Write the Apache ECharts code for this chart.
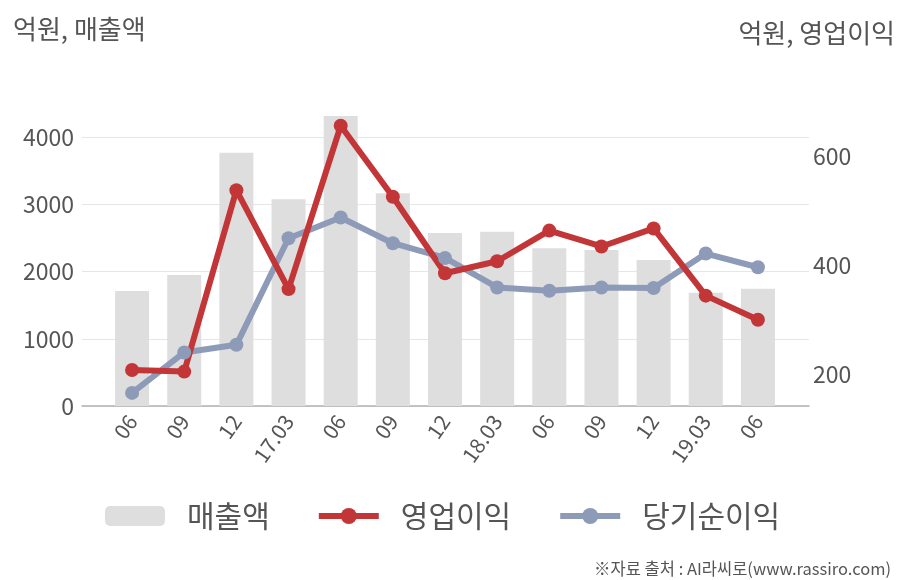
<!DOCTYPE html>
<html><head><meta charset="utf-8">
<script src="https://cdn.jsdelivr.net/npm/echarts@6/dist/echarts.min.js"></script>
<style>html,body{margin:0;padding:0;background:#fff}#c{width:908px;height:580px}</style>
</head><body><div id="c"></div>
<script>
const categories = ['06','09','12','17.03','06','09','12','18.03','06','09','12','19.03','06'];
const sales = [1710, 1948, 3767, 3078, 4317, 3167, 2575, 2592, 2349, 2320, 2171, 1685, 1744];
const operatingProfit = [208, 205, 537, 356, 655, 525, 385, 407, 463, 434, 467, 344, 300];
const netProfit = [166, 240, 254, 449, 487, 440, 413, 359, 353, 359, 358, 421, 396];
const leftTicks = [0, 1000, 2000, 3000, 4000];
const rightTicks = [200, 400, 600];

const FONT = "'Noto Sans CJK KR','Noto Sans',sans-serif";
const TXT = '#555';
const chart = echarts.init(document.getElementById('c'));
const gridColors = ['#e6e6e6','#e6e6e6','#e6e6e6','#e6e6e6','#e6e6e6','rgba(0,0,0,0)'];
chart.setOption({
  animation: false,
  textStyle: {fontFamily: FONT},
  title: [
    {text: '억원, 매출액', left: 8, top: 11, textStyle: {fontFamily: FONT, fontSize: 26, fontWeight: 'normal', color: TXT}},
    {text: '억원, 영업이익', right: 8, top: 15, textStyle: {fontFamily: FONT, fontSize: 26, fontWeight: 'normal', color: TXT}},
    {text: '※자료 출처 : AI라씨로(www.rassiro.com)', right: 12, top: 555, textStyle: {fontFamily: FONT, fontSize: 16.5, fontWeight: 'normal', color: TXT}}
  ],
  legend: {
    left: 100, top: 496,
    itemWidth: 60, itemHeight: 20, itemGap: 46,
    data: ['매출액', '영업이익', '당기순이익'],
    lineStyle: {width: 6},
    textStyle: {fontFamily: FONT, fontSize: 30, color: TXT, padding: [0,0,0,17]}
  },
  grid: [
    {left: 82, right: 99, top: 70, bottom: 174},
    {left: 106, right: 124, top: 70, bottom: 174}
  ],
  xAxis: [
    {gridIndex: 0, type: 'value', min: 0, max: 1, axisLine: {show: true, onZero: false, lineStyle: {color: '#b3b3b3', width: 1.5}},
     axisTick: {show: false}, axisLabel: {show: false}, splitLine: {show: false}},
    {gridIndex: 1, type: 'category', data: categories, axisLine: {show: false}, axisTick: {show: false},
     axisLabel: {rotate: 55, fontSize: 21, color: TXT, margin: 11, fontFamily: FONT, interval: 0}}
  ],
  yAxis: [
    {gridIndex: 0, type: 'value', position: 'left', min: 0, max: 5000, interval: 1000,
     axisLine: {show: false}, axisTick: {show: false},
     axisLabel: {fontSize: 23, color: TXT, margin: 8, fontFamily: FONT, formatter: v => leftTicks.includes(v) ? String(v) : ''},
     splitLine: {show: true, lineStyle: {color: gridColors, width: 1}}},
    {gridIndex: 0, type: 'value', position: 'right', min: 142, max: 757, interval: 2,
     axisLine: {show: false}, axisTick: {show: false}, splitLine: {show: false},
     axisLabel: {fontSize: 23, color: TXT, margin: 4, fontFamily: FONT, formatter: v => rightTicks.includes(v) ? String(v) : ''}},
    {gridIndex: 1, type: 'value', min: 0, max: 5000, show: false, splitLine: {show: false}},
    {gridIndex: 1, type: 'value', min: 142, max: 757, show: false, splitLine: {show: false}}
  ],
  series: [
    {name: '매출액', type: 'bar', xAxisIndex: 1, yAxisIndex: 2, data: sales, barWidth: 34,
     itemStyle: {color: '#dedede'}},
    {name: '당기순이익', type: 'line', xAxisIndex: 1, yAxisIndex: 3, data: netProfit,
     symbol: 'circle', symbolSize: 14, lineStyle: {width: 6, color: '#8e9bb8'}, itemStyle: {color: '#8e9bb8'}},
    {name: '영업이익', type: 'line', xAxisIndex: 1, yAxisIndex: 3, data: operatingProfit,
     symbol: 'circle', symbolSize: 14, lineStyle: {width: 6, color: '#c23638'}, itemStyle: {color: '#c23638'}}
  ]
});
</script></body></html>
